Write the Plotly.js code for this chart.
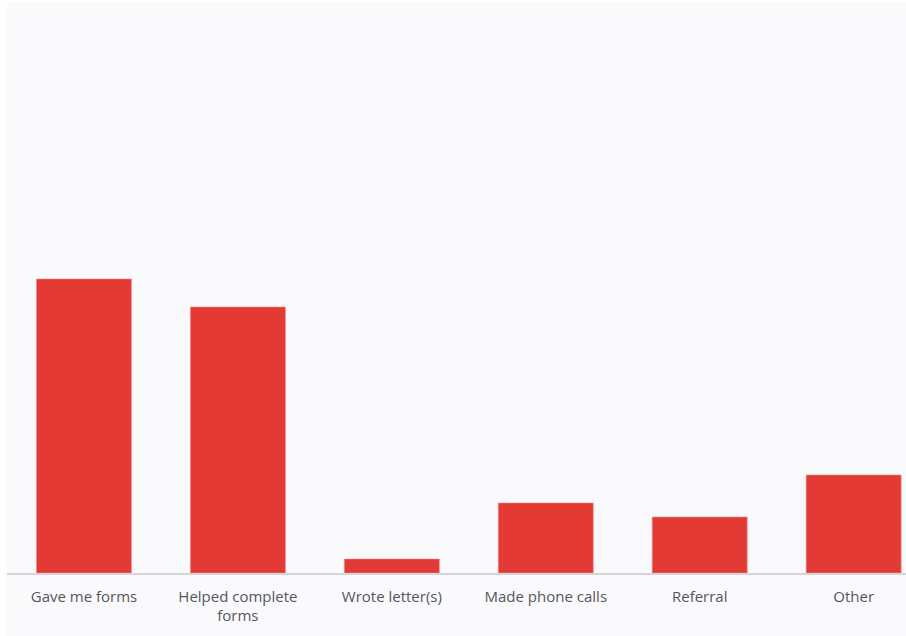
<!DOCTYPE html>
<html>
<head>
<meta charset="utf-8">
<script src="https://cdn.plot.ly/plotly-3.0.1.min.js"></script>
<style>
html,body{margin:0;padding:0;background:#ffffff;width:906px;height:636px;overflow:hidden;}
#chart{position:absolute;left:7px;top:2px;width:899px;height:634px;}
</style>
</head>
<body>
<div id="chart"></div>
<script>
const categories = ["Gave me forms", "Helped complete<br>forms", "Wrote letter(s)", "Made phone calls", "Referral", "Other"];
const counts = [21, 19, 1, 5, 4, 7];

const trace = {
  type: 'bar',
  x: categories,
  y: counts,
  marker: {color: '#e43a36', line: {color: '#f08a88', width: 0.6}},
  hoverinfo: 'x+y'
};

const layout = {
  width: 899,
  height: 634,
  margin: {l: 0, r: 0, t: 11, b: 63},
  paper_bgcolor: '#fafafc',
  plot_bgcolor: '#fafafc',
  bargap: 0.383,
  showlegend: false,
  font: {family: '"Open Sans", sans-serif', size: 15, color: '#52575e'},
  xaxis: {
    type: 'category',
    range: [-0.5, 5.34],
    showline: true,
    linecolor: '#d4d4d9',
    linewidth: 1.5,
    showgrid: false,
    zeroline: false,
    ticks: '',
    ticklabelstandoff: 9,
    tickfont: {size: 15, color: '#52575e'},
    fixedrange: true
  },
  yaxis: {
    range: [0, 40],
    visible: false,
    showgrid: false,
    zeroline: false,
    fixedrange: true
  }
};

Plotly.newPlot('chart', [trace], layout, {displayModeBar: false, staticPlot: true});
</script>
</body>
</html>
